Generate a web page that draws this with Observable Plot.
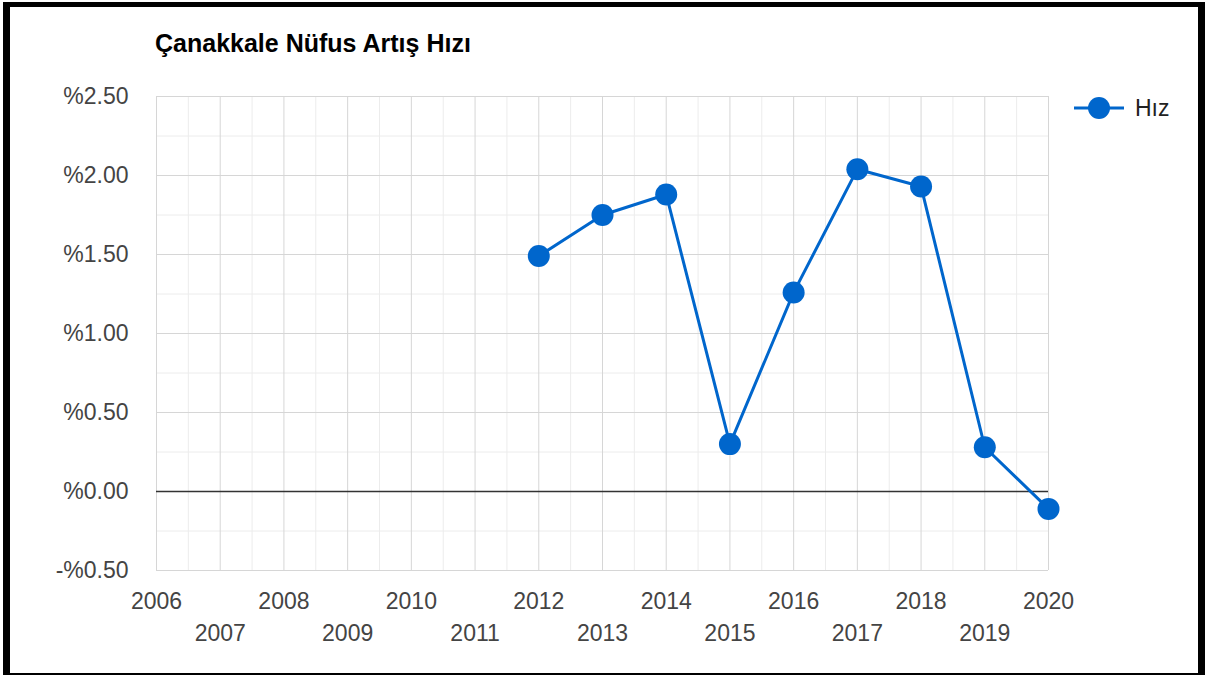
<!DOCTYPE html>
<html>
<head>
<meta charset="utf-8">
<script src="https://cdn.jsdelivr.net/npm/d3@7"></script>
<script src="https://cdn.jsdelivr.net/npm/@observablehq/plot@0.6"></script>
<style>
  html, body { margin: 0; padding: 0; background: #fff; }
  #wrap { position: relative; width: 1205px; height: 675px; overflow: hidden; font-family: "Liberation Sans", Arial, sans-serif; }
  #frame { position: absolute; left: 3px; top: 2px; width: 1202px; height: 673px; box-sizing: border-box;
           border-style: solid; border-color: #000; border-width: 5px 7px 2px 7px; pointer-events: none; }
  #title { position: absolute; left: 155px; top: 31px; font-size: 25px; line-height: 25px; font-weight: bold; color: #000; white-space: nowrap; }
  #chart { position: absolute; left: 0; top: 0; }
  #legend { position: absolute; left: 1072px; top: 94px; height: 28px; display: flex; align-items: center; }
  #legend span { font-size: 23px; color: #222; margin-left: 9px; }
</style>
</head>
<body>
<div id="wrap">
  <div id="chart"></div>
  <div id="title">Çanakkale Nüfus Artış Hızı</div>
  <div id="legend">
    <svg width="54" height="28"><line x1="2" y1="14" x2="52" y2="14" stroke="#0066cc" stroke-width="3"></line><circle cx="27" cy="14" r="11" fill="#0066cc"></circle></svg>
    <span>Hız</span>
  </div>
  <div id="frame"></div>
</div>
<script>
// Data
const years = [2012, 2013, 2014, 2015, 2016, 2017, 2018, 2019, 2020];
const rates = [1.49, 1.75, 1.88, 0.30, 1.26, 2.04, 1.93, 0.28, -0.11];
const seriesName = "Hız";

// Axis / grid ticks
const yMajor = [-0.5, 0, 0.5, 1.0, 1.5, 2.0, 2.5];
const yMinor = [-0.25, 0.25, 0.75, 1.25, 1.75, 2.25];
const xMajor = [2006, 2007, 2008, 2009, 2010, 2011, 2012, 2013, 2014, 2015, 2016, 2017, 2018, 2019, 2020];
const xMinor = [2006.5, 2007.5, 2008.5, 2009.5, 2010.5, 2011.5, 2012.5, 2013.5, 2014.5, 2015.5, 2016.5, 2017.5, 2018.5, 2019.5];
const xLabelsRow1 = [2006, 2008, 2010, 2012, 2014, 2016, 2018, 2020];
const xLabelsRow2 = [2007, 2009, 2011, 2013, 2015, 2017, 2019];

const data = years.map((y, i) => ({year: y, rate: rates[i], name: seriesName}));
const fmtY = d => (d < 0 ? "-%" : "%") + Math.abs(d).toFixed(2);

const chart = Plot.plot({
  width: 1205,
  height: 675,
  marginLeft: 156,
  marginRight: 157,
  marginTop: 96,
  marginBottom: 105,
  style: {fontFamily: "'Liberation Sans', Arial, sans-serif", background: "transparent", overflow: "visible"},
  x: {domain: [2006, 2020]},
  y: {domain: [-0.5, 2.5]},
  marks: [
    Plot.ruleY(yMinor, {stroke: "#ececec", strokeWidth: 1}),
    Plot.ruleX(xMinor, {stroke: "#ececec", strokeWidth: 1}),
    Plot.ruleY(yMajor, {stroke: "#d6d6d6", strokeWidth: 1}),
    Plot.ruleX(xMajor, {stroke: "#d6d6d6", strokeWidth: 1}),
    Plot.ruleY([0], {stroke: "#333", strokeWidth: 1.5}),
    Plot.axisY({ticks: yMajor, tickFormat: fmtY, tickSize: 0, tickPadding: 28, fontSize: 23, fill: "#444", label: null}),
    Plot.axisX({ticks: xLabelsRow1, tickFormat: d => String(d), tickSize: 0, tickPadding: 22, fontSize: 23, fill: "#444", label: null}),
    Plot.axisX({ticks: xLabelsRow2, tickFormat: d => String(d), tickSize: 0, tickPadding: 54, fontSize: 23, fill: "#444", label: null}),
    Plot.line(data, {x: "year", y: "rate", stroke: "#0066cc", strokeWidth: 3}),
    Plot.dot(data, {x: "year", y: "rate", r: 11, fill: "#0066cc", stroke: "none"})
  ]
});
document.getElementById("chart").appendChild(chart);
</script>
</body>
</html>
